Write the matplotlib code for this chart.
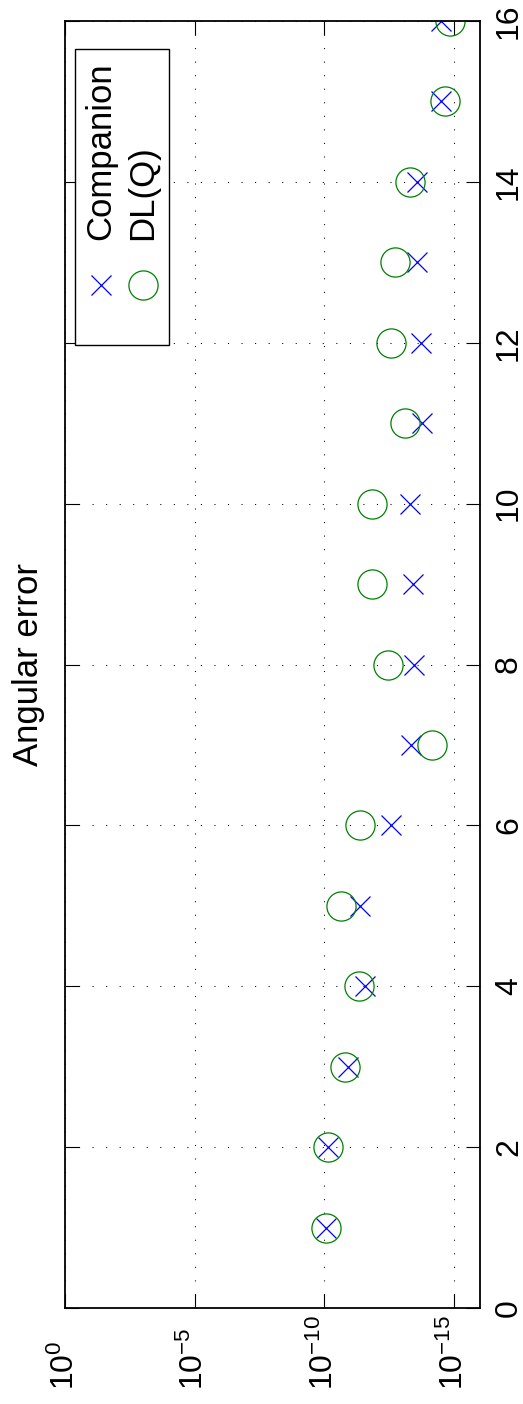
import matplotlib
matplotlib.use("Agg")
import matplotlib.pyplot as plt
from matplotlib.patches import Rectangle
from matplotlib.ticker import NullLocator

plt.rcParams['font.family'] = ['Liberation Sans', 'DejaVu Sans']
plt.rcParams['mathtext.fontset'] = 'custom'
plt.rcParams['mathtext.rm'] = 'Liberation Sans'
plt.rcParams['mathtext.it'] = 'Liberation Sans'
plt.rcParams['mathtext.bf'] = 'Liberation Sans'

# Data (rotated MATLAB figure: index runs upward, error runs to the right)
index = list(range(1, 17))
companion = [8.3e-11, 7.2e-11, 1.26e-11, 2.6e-12, 4.4e-12, 2.75e-13, 4.7e-14, 3.6e-14,
             3.9e-14, 4.8e-14, 1.74e-14, 1.9e-14, 2.6e-14, 2.6e-14, 3.2e-15, 3.2e-15]
dlq = [8.3e-11, 7.2e-11, 1.55e-11, 4.8e-12, 2.24e-11, 4.3e-12, 7.1e-15, 3.6e-13,
       1.41e-12, 1.41e-12, 8.1e-14, 2.75e-13, 1.86e-13, 4.9e-14, 2.24e-15, 1.41e-15]
err_ticks = [1e0, 1e-5, 1e-10, 1e-15]
err_labels = [r'$10^{0}$', r'$10^{-5}$', r'$10^{-10}$', r'$10^{-15}$']
idx_ticks = list(range(0, 17, 2))
title = "Angular error"
names = ["Companion", "DL(Q)"]

blue = (0, 0, 1)
green = (0, 0.5, 0)
fs = 25
tick_fs = 23

fig = plt.figure(figsize=(5.23, 14.04), dpi=100)
ax = fig.add_axes([65 / 523, 96 / 1404, 415 / 523, 1287 / 1404])

ax.plot(companion, index, linestyle='none', marker='x', markersize=14.5,
        markeredgewidth=0.9, color=blue)
ax.plot(dlq, index, linestyle='none', marker='o', markersize=21,
        markeredgewidth=0.9, markerfacecolor='none', markeredgecolor=green)

ax.set_xscale('log')
ax.set_xlim(1e0, 1e-16)
ax.set_ylim(0, 16)
ax.set_xticks(err_ticks)
ax.set_xticklabels(err_labels)
ax.xaxis.set_minor_locator(NullLocator())
ax.set_yticks(idx_ticks)
ax.set_yticklabels([str(t) for t in idx_ticks])

ax.yaxis.tick_right()
ax.tick_params(which='both', direction='in', length=10, width=0.8,
               top=True, bottom=True, left=True, right=True, labelsize=tick_fs)
ax.tick_params(axis='x', pad=59)
ax.tick_params(axis='y', pad=10)
for lab in ax.get_xticklabels():
    lab.set_rotation(90)
    lab.set_va('bottom')
    lab.set_ha('center')
for lab in ax.get_yticklabels():
    lab.set_rotation(90)
    lab.set_va('center')

ax.grid(True, linestyle=(0, (1, 12)), linewidth=0.75, color='black')
for s in ax.spines.values():
    s.set_linewidth(1.3)

ax.text(-0.088, 0.5, title, rotation=90, transform=ax.transAxes,
        ha='center', va='center', fontsize=fs)

# Hand-built rotated legend
ax.add_patch(Rectangle((0.0241, 0.7483), 0.2265, 0.23, transform=ax.transAxes,
                       facecolor='white', edgecolor='black', linewidth=1.0, zorder=5))
ax.plot([0.086], [0.795], transform=ax.transAxes, marker='x', markersize=14.5,
        markeredgewidth=0.9, color=blue, zorder=6, clip_on=False)
ax.plot([0.187], [0.795], transform=ax.transAxes, marker='o', markersize=21,
        markeredgewidth=0.9, markerfacecolor='none', markeredgecolor=green,
        zorder=6, clip_on=False)
ax.text(0.086, 0.830, names[0], rotation=90, transform=ax.transAxes,
        ha='center', va='bottom', fontsize=fs, zorder=6)
ax.text(0.187, 0.830, names[1], rotation=90, transform=ax.transAxes,
        ha='center', va='bottom', fontsize=fs, zorder=6)

fig.savefig("out.png", dpi=100)
